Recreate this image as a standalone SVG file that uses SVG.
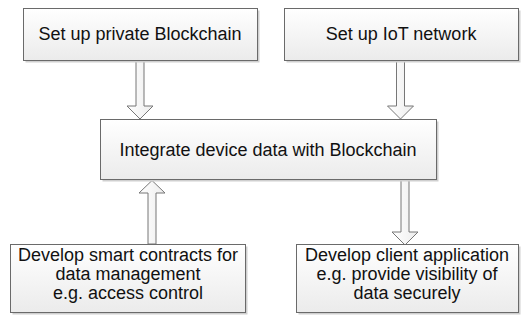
<svg xmlns="http://www.w3.org/2000/svg" width="522" height="324" viewBox="0 0 522 324">
  <defs>
    <linearGradient id="boxFill" x1="0" y1="0" x2="0" y2="1">
      <stop offset="0" stop-color="#ffffff"/>
      <stop offset="1" stop-color="#ebebeb"/>
    </linearGradient>
    <linearGradient id="arrowFill" x1="0" y1="0" x2="1" y2="0">
      <stop offset="0" stop-color="#ffffff"/>
      <stop offset="1" stop-color="#ededed"/>
    </linearGradient>
  </defs>
  <style>
    .shadow { fill: #cfcfcf; }
    .box { fill: url(#boxFill); stroke: #6a6a6a; stroke-width: 1; }
    .arrow { fill: url(#arrowFill); stroke: #777777; stroke-width: 1; stroke-linejoin: miter; }
    .label { font-family: "Liberation Sans", Arial, sans-serif; font-size: 18px; fill: #111111; text-anchor: middle; }
  </style>

  <!-- block arrows between steps -->
  <g id="connectors">
    <path class="arrow" d="M136,60.5 L144,60.5 L144,106 L153,106 L140,119 L127,106 L136,106 Z"/>
    <path class="arrow" d="M396.5,60.5 L404.5,60.5 L404.5,106 L413.5,106 L400.5,119 L387.5,106 L396.5,106 Z"/>
    <path class="arrow" d="M148,244 L148,193 L139,193 L152,180.5 L165,193 L156,193 L156,244 Z"/>
    <path class="arrow" d="M401,180.5 L409,180.5 L409,232 L418,232 L405,245 L392,232 L401,232 Z"/>
  </g>

  <g id="node-blockchain">
    <rect class="shadow" x="25.5" y="10.5" width="234" height="52"/>
    <rect class="box" x="23.5" y="8.5" width="234" height="52"/>
    <text class="label" x="140" y="40">Set up private Blockchain</text>
  </g>

  <g id="node-iot">
    <rect class="shadow" x="286.5" y="10.5" width="234" height="52"/>
    <rect class="box" x="284.5" y="8.5" width="234" height="52"/>
    <text class="label" x="401" y="40">Set up IoT network</text>
  </g>

  <g id="node-integrate">
    <rect class="shadow" x="102.5" y="121.5" width="336" height="60"/>
    <rect class="box" x="100.5" y="119.5" width="336" height="60"/>
    <text class="label" x="268" y="156">Integrate device data with Blockchain</text>
  </g>

  <g id="node-contracts">
    <rect class="shadow" x="12.5" y="246.5" width="235" height="68"/>
    <rect class="box" x="10.5" y="244.5" width="235" height="68"/>
    <text class="label" x="128" y="261">Develop smart contracts for</text>
    <text class="label" x="128" y="280">data management</text>
    <text class="label" x="128" y="299">e.g. access control</text>
  </g>

  <g id="node-client">
    <rect class="shadow" x="298.5" y="246.5" width="222" height="68"/>
    <rect class="box" x="296.5" y="244.5" width="222" height="68"/>
    <text class="label" x="407" y="261">Develop client application</text>
    <text class="label" x="407" y="280">e.g. provide visibility of</text>
    <text class="label" x="407" y="299">data securely</text>
  </g>
</svg>
